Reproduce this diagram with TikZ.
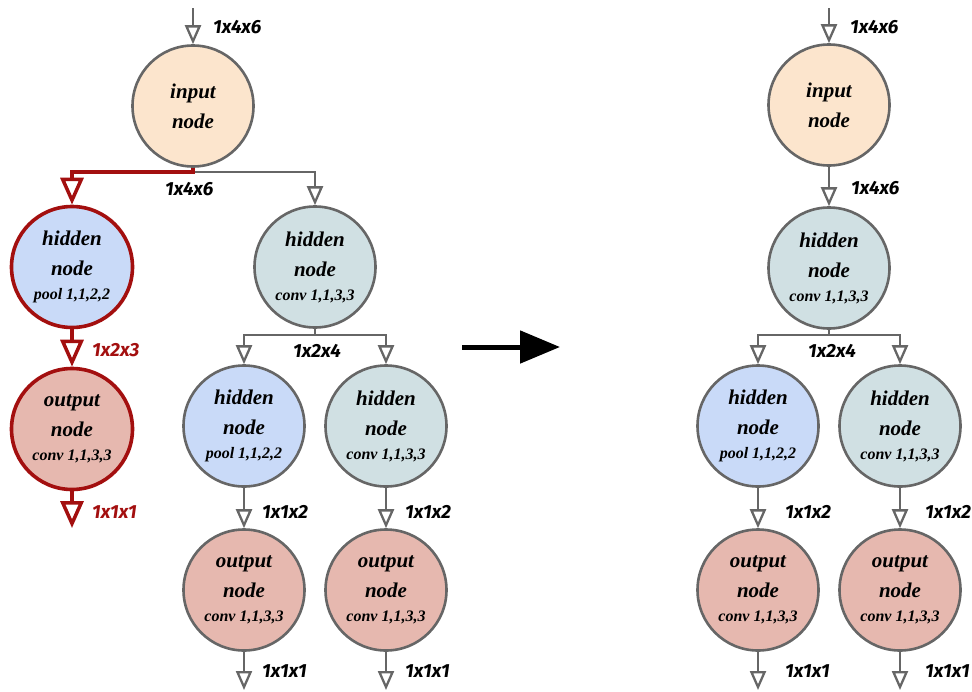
\documentclass[tikz,border=0pt]{standalone}
\usepackage{fontspec}
\newfontfamily\nodefont{Liberation Serif}
\newfontfamily\dimfont{Fira Sans}
\usetikzlibrary{arrows.meta}

\definecolor{inputfill}{HTML}{FCE5CD}
\definecolor{poolfill}{HTML}{C9DAF8}
\definecolor{convfill}{HTML}{D0E0E3}
\definecolor{outfill}{HTML}{E6B8AF}
\definecolor{edgegray}{HTML}{666666}
\definecolor{pathred}{HTML}{A30F0F}

\tikzset{
  netnode/.style={circle, draw=edgegray, line width=2.6pt, minimum size=121pt, inner sep=0pt,
    align=center, font=\nodefont\bfseries\itshape\fontsize{21}{30}\selectfont},
  innode/.style={netnode, fill=inputfill},
  poolnode/.style={netnode, fill=poolfill},
  convnode/.style={netnode, fill=convfill},
  outnode/.style={netnode, fill=outfill},
  picked/.style={draw=pathred, line width=3.6pt},
  flow/.style={draw=edgegray, line width=2.3pt, -{Triangle[open, length=19pt, width=16pt]}},
  redflow/.style={draw=pathred, line width=3.5pt, -{Triangle[open, length=27pt, width=23pt]}},
  dim/.style={font=\dimfont\bfseries\itshape\fontsize{19}{19}\selectfont, anchor=west, inner sep=0pt},
}
\newcommand{\optext}[1]{\\[-6pt]{\fontsize{16}{16}\selectfont #1}}

\begin{document}
\begin{tikzpicture}[x=1pt,y=1pt,yscale=-1]
  \useasboundingbox (0,0) rectangle (972,691);

  %% left: search space
  \node[innode] (inL) at (193,106) {input\\node};
  \node[poolnode, picked] (poolL) at (72,267) {hidden\\node\optext{pool 1,1,2,2}};
  \node[outnode, picked] (outL) at (72,429) {output\\node\optext{conv 1,1,3,3}};
  \node[convnode] (convM) at (315,267) {hidden\\node\optext{conv 1,1,3,3}};
  \node[poolnode] (poolM) at (244,426) {hidden\\node\optext{pool 1,1,2,2}};
  \node[convnode] (convM2) at (386,426) {hidden\\node\optext{conv 1,1,3,3}};
  \node[outnode] (outM1) at (244,590) {output\\node\optext{conv 1,1,3,3}};
  \node[outnode] (outM2) at (386,590) {output\\node\optext{conv 1,1,3,3}};

  \coordinate (srcL) at (193,8);
  \coordinate (splitL) at (193,172);
  \coordinate (splitM) at (315,335);
  \coordinate (endL) at (72,528);
  \coordinate (endM1) at (244,690);
  \coordinate (endM2) at (386,690);

  \draw[flow] (srcL) -- (inL.north);
  \draw[flow] (inL.south) -- (splitL) -| (convM.north);
  \draw[redflow] (inL.south) -- (splitL) -| (poolL.north);
  \draw[redflow] (poolL.south) -- (outL.north);
  \draw[redflow] (outL.south) -- (endL);
  \draw[flow] (convM.south) -- (splitM) -| (poolM.north);
  \draw[flow] (convM.south) -- (splitM) -| (convM2.north);
  \draw[flow] (poolM.south) -- (outM1.north);
  \draw[flow] (convM2.south) -- (outM2.north);
  \draw[flow] (outM1.south) -- (endM1);
  \draw[flow] (outM2.south) -- (endM2);

  % Text Node
  \node[dim] (dA) at (213,27) {1x4x6};
  \node[dim] (dB) at (165,189) {1x4x6};
  \node[dim, text=pathred] (dC) at (92,350) {1x2x3};
  \node[dim, text=pathred] (dD) at (92,512) {1x1x1};
  \node[dim] (dE) at (293,351) {1x2x4};
  \node[dim] (dF) at (262,512) {1x1x2};
  \node[dim] (dG) at (405,512) {1x1x2};
  \node[dim] (dH) at (262,671) {1x1x1};
  \node[dim] (dI) at (405,671) {1x1x1};

  %% big arrow
  \coordinate (bigtail) at (462,347);
  \coordinate (bighead) at (560,347);
  \draw[line width=5pt, -{Triangle[length=40pt, width=32pt]}] (bigtail) -- (bighead);

  %% right: chosen network
  \node[innode] (inR) at (829,105) {input\\node};
  \node[convnode] (convR) at (829,268) {hidden\\node\optext{conv 1,1,3,3}};
  \node[poolnode] (poolR) at (758,426) {hidden\\node\optext{pool 1,1,2,2}};
  \node[convnode] (convR2) at (900,426) {hidden\\node\optext{conv 1,1,3,3}};
  \node[outnode] (outR1) at (758,590) {output\\node\optext{conv 1,1,3,3}};
  \node[outnode] (outR2) at (900,590) {output\\node\optext{conv 1,1,3,3}};

  \coordinate (srcR) at (829,8);
  \coordinate (splitR) at (829,335);
  \coordinate (endR1) at (758,690);
  \coordinate (endR2) at (900,690);

  \draw[flow] (srcR) -- (inR.north);
  \draw[flow] (inR.south) -- (convR.north);
  \draw[flow] (convR.south) -- (splitR) -| (poolR.north);
  \draw[flow] (convR.south) -- (splitR) -| (convR2.north);
  \draw[flow] (poolR.south) -- (outR1.north);
  \draw[flow] (convR2.south) -- (outR2.north);
  \draw[flow] (outR1.south) -- (endR1);
  \draw[flow] (outR2.south) -- (endR2);

  % Text Node
  \node[dim] (rA) at (850,27) {1x4x6};
  \node[dim] (rB) at (851,188) {1x4x6};
  \node[dim] (rC) at (808,351) {1x2x4};
  \node[dim] (rD) at (785,512) {1x1x2};
  \node[dim] (rE) at (925,512) {1x1x2};
  \node[dim] (rF) at (785,671) {1x1x1};
  \node[dim] (rG) at (925,671) {1x1x1};
\end{tikzpicture}
\end{document}
